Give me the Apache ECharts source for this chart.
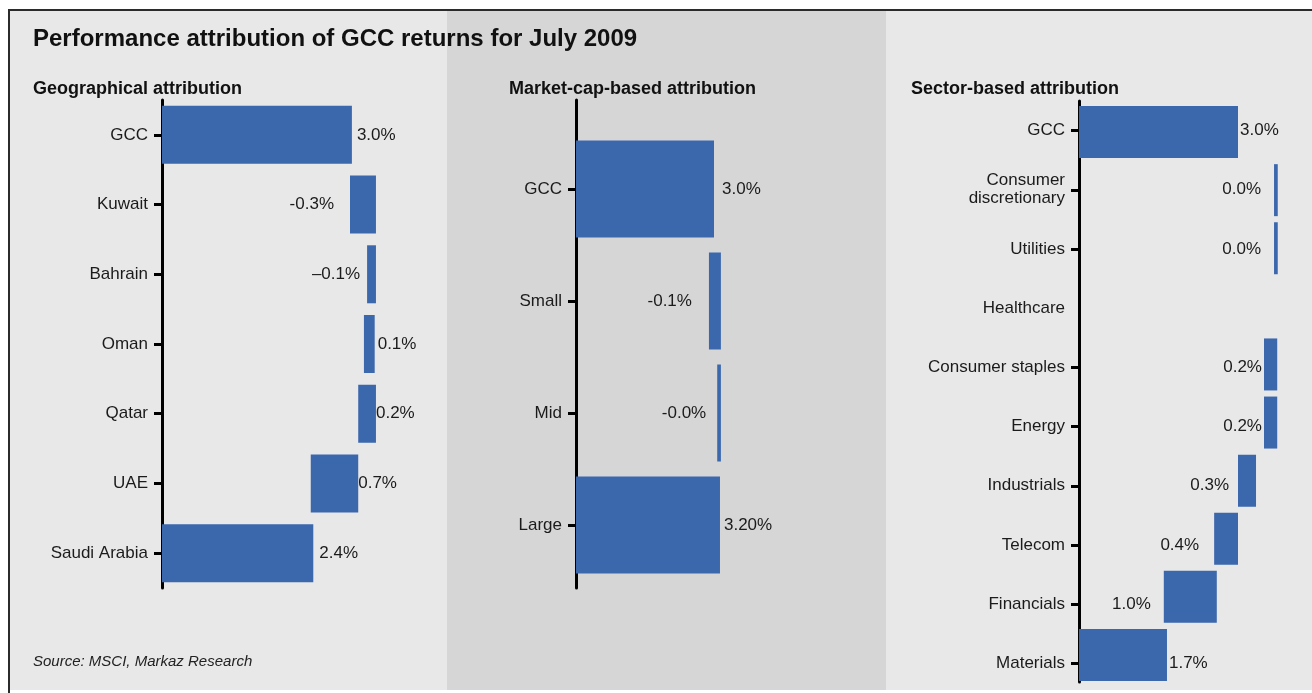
<!DOCTYPE html>
<html><head><meta charset="utf-8">
<script src="https://cdn.jsdelivr.net/npm/echarts@6/dist/echarts.min.js"></script>
<style>html,body{margin:0;padding:0;background:#fff}#c{width:1312px;height:693px}</style>
</head><body><div id="c"></div>
<script>
// ---------- DATA ----------
const geoCategories = ['GCC', 'Kuwait', 'Bahrain', 'Oman', 'Qatar', 'UAE', 'Saudi Arabia'];
const geoFrom = [0, 2.97, 3.24, 3.19, 3.10, 2.35, 0];
const geoTo   = [3.0, 3.38, 3.38, 3.36, 3.38, 3.10, 2.39];
const geoLabels = ['3.0%', '-0.3%', '\u20130.1%', '0.1%', '0.2%', '0.7%', '2.4%'];

const capCategories = ['GCC', 'Small', 'Mid', 'Large'];
const capFrom = [0, 2.89, 3.07, 0];
const capTo   = [3.0, 3.15, 3.15, 3.13];
const capLabels = ['3.0%', '-0.1%', '-0.0%', '3.20%'];

const sectorCategories = ['GCC', 'Consumer\ndiscretionary', 'Utilities', 'Healthcare', 'Consumer staples',
  'Energy', 'Industrials', 'Telecom', 'Financials', 'Materials'];
const sectorFrom = [0, 3.68, 3.68, null, 3.49, 3.49, 3.0, 2.55, 1.60, 0];
const sectorTo   = [3.0, 3.75, 3.75, null, 3.74, 3.74, 3.34, 3.0, 2.60, 1.66];
const sectorLabels = ['3.0%', '0.0%', '0.0%', '', '0.2%', '0.2%', '0.3%', '0.4%', '1.0%', '1.7%'];

// ---------- STYLE ----------
const FONT = "'Liberation Sans', Arial, sans-serif";
const BAR = '#3b67ad';
const TXT = '#1b1b1b';
const geoLabelStyle = { pos: ['right','left','left','right','right','right','right'], dist: [5,16,7,3,0,0,6] };
const capLabelStyle = { pos: ['right','left','left','right'], dist: [8,17,11,4] };
const sectorLabelStyle = { pos: ['right','left','left','left','left','left','left','left','left','right'], dist: [2,13,13,0,2,2,9,15,13,2] };

function lengths(from, to) { return from.map((f, i) => (f == null ? '-' : +(to[i] - f).toFixed(3))); }
function bases(from) { return from.map(f => (f == null ? '-' : f)); }

function waterfall(name, xi, yi, from, to, labels, ls, barWidth, showBar, showLabel) {
  return [
    { name: name + '-base', type: 'bar', stack: name, xAxisIndex: xi, yAxisIndex: yi, barWidth: barWidth,
      data: bases(from), itemStyle: { color: 'transparent' }, silent: true, label: { show: false } },
    { name: name, type: 'bar', stack: name, xAxisIndex: xi, yAxisIndex: yi, barWidth: barWidth,
      data: lengths(from, to).map((v, i) => ({
        value: v,
        label: { show: showLabel && labels[i] !== '', position: ls.pos[i], distance: ls.dist[i],
                 formatter: () => labels[i] }
      })),
      itemStyle: { color: showBar ? BAR : 'transparent' },
      label: { fontFamily: FONT, fontSize: 17, color: TXT },
      silent: true }
  ];
}

const tickStyle = { show: true, alignWithLabel: true, length: 8, lineStyle: { color: '#000', width: 3 } };
const catAxis = (gi, data, extra) => Object.assign({
  type: 'category', gridIndex: gi, data: data, inverse: true,
  axisLine: { show: true, lineStyle: { color: '#000', width: 3 } },
  axisTick: tickStyle,
  axisLabel: { fontFamily: FONT, fontSize: 17, color: TXT, margin: 14, lineHeight: 18 }
}, extra || {});
const hiddenCat = (gi, data) => ({ type: 'category', gridIndex: gi, data: data, inverse: true, show: false });
const valAxis = gi => ({ type: 'value', gridIndex: gi, min: 0, max: 4, show: false });
const head = (text, left, top, size, extra) => ({
  text: text, left: left, top: top, padding: 0,
  textStyle: Object.assign({ fontFamily: FONT, fontSize: size, fontWeight: 'bold', color: '#111' }, extra || {})
});

const option = {
  backgroundColor: '#ffffff',
  animation: false,
  graphic: [
    { type: 'rect', z: -10, shape: { x: 9, y: 10, width: 1310, height: 680 }, style: { fill: '#e8e8e8' } },
    { type: 'rect', z: -9, shape: { x: 447, y: 11, width: 439, height: 679 }, style: { fill: '#d6d6d6' } },
    { type: 'line', z: -8, shape: { x1: 8, y1: 10, x2: 1312, y2: 10 }, style: { stroke: '#2b2b2b', lineWidth: 2 } },
    { type: 'line', z: -8, shape: { x1: 9, y1: 9, x2: 9, y2: 693 }, style: { stroke: '#2b2b2b', lineWidth: 2 } }
  ],
  title: [
    head('Performance attribution of GCC returns for July 2009', 33, 27, 24),
    head('Geographical attribution', 33, 80, 18),
    head('Market-cap-based attribution', 509, 80, 18),
    head('Sector-based attribution', 911, 80, 18),
    head('Source: MSCI, Markaz Research', 33, 654, 15, { fontWeight: 'normal', fontStyle: 'italic', color: '#222' })
  ],
  grid: [
    { left: 162, top: 100, width: 253.2, height: 488 },   // 0 geo
    { left: 576, top: 133, width: 184, height: 448 },     // 1 cap
    { left: 576, top: 100, width: 184, height: 488 },     // 2 cap axis line
    { left: 1079, top: 101, width: 212, height: 600 },    // 3 sector labels/ticks
    { left: 1079, top: 103, width: 212, height: 581 },    // 4 sector bars
    { left: 1079, top: 101, width: 212, height: 581 }     // 5 sector axis line
  ],
  xAxis: [valAxis(0), valAxis(1), valAxis(2), valAxis(3), valAxis(4), valAxis(5)],
  yAxis: [
    catAxis(0, geoCategories),
    catAxis(1, capCategories, { axisLine: { show: false } }),
    catAxis(2, [''], { axisTick: { show: false }, axisLabel: { show: false } }),
    catAxis(3, sectorCategories, {
      axisLine: { show: false },
      axisTick: Object.assign({}, tickStyle, { interval: (i, v) => v !== 'Healthcare' })
    }),
    hiddenCat(4, sectorCategories),
    catAxis(5, [''], { axisTick: { show: false }, axisLabel: { show: false } })
  ],
  series: [].concat(
    waterfall('geo', 0, 0, geoFrom, geoTo, geoLabels, geoLabelStyle, 58, true, true),
    waterfall('cap', 1, 1, capFrom, capTo, capLabels, capLabelStyle, 97, true, true),
    waterfall('sectorBars', 4, 4, sectorFrom, sectorTo, sectorLabels, sectorLabelStyle, 52, true, false),
    waterfall('sectorLabels', 3, 3, sectorFrom, sectorTo, sectorLabels, sectorLabelStyle, 52, false, true)
  )
};

echarts.init(document.getElementById('c'), null, { renderer: 'canvas' }).setOption(option);
</script>
</body></html>
